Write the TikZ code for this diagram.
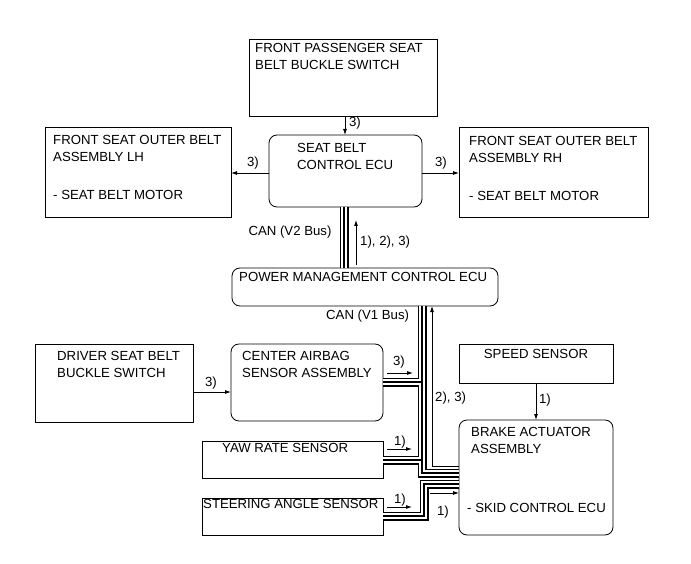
\documentclass[tikz,border=0pt]{standalone}
\usepackage{fontspec}
\setmainfont{Liberation Sans}
\usetikzlibrary{arrows.meta}
\begin{document}
\begin{tikzpicture}[x=1pt,y=-1pt,
  box/.style={draw, line width=0.8pt, inner sep=0pt, outer sep=0pt, anchor=north west},
  rbox/.style={box, rounded corners=8pt},
  txt/.style={inner sep=0pt, anchor=north west, align=left, font=\fontsize{13.2}{17}\selectfont},
  lbl/.style={inner sep=0pt, font=\fontsize{13.2}{17}\selectfont},
  arr/.style={line width=0.8pt, -{Latex[length=6pt,width=4pt]}}]
\useasboundingbox (0,0) rectangle (691,564);

% boxes
\node[box,  minimum width=188pt, minimum height=77pt]  (psg) at (249,39)  {};
\node[rbox, minimum width=153pt, minimum height=72pt]  (sbc) at (269,135) {};
\node[box,  minimum width=186pt, minimum height=90pt]  (lh)  at (45,127)  {};
\node[box,  minimum width=189pt, minimum height=90pt]  (rh)  at (459,127) {};
\node[rbox, minimum width=266pt, minimum height=38pt]  (pmc) at (232,268) {};
\node[box,  minimum width=158pt, minimum height=78pt]  (drv) at (35,344)  {};
\node[rbox, minimum width=152pt, minimum height=77pt]  (cab) at (231,344) {};
\node[box,  minimum width=154pt, minimum height=39pt]  (spd) at (459,344) {};
\node[rbox, minimum width=154pt, minimum height=115pt] (bra) at (459,420) {};
\node[box,  minimum width=181pt, minimum height=37pt]  (yaw) at (202,441) {};
\node[box,  minimum width=181pt, minimum height=37pt]  (str) at (202,498) {};

% box texts
\node[txt] (tpsg) at (255,43)  {FRONT PASSENGER SEAT\\BELT BUCKLE SWITCH};
\node[txt] (tsbc) at (297,143) {SEAT BELT\\CONTROL ECU};
\node[txt] (tlh)  at (53,135)  {FRONT SEAT OUTER BELT\\ASSEMBLY LH};
\node[txt] (tlh2) at (53,190)  {- SEAT BELT MOTOR};
\node[txt] (trh)  at (469,136) {FRONT SEAT OUTER BELT\\ASSEMBLY RH};
\node[txt] (trh2) at (469,191) {- SEAT BELT MOTOR};
\node[txt] (tpmc) at (239,272) {POWER MANAGEMENT CONTROL ECU};
\node[txt] (tdrv) at (57,351)  {DRIVER SEAT BELT\\BUCKLE SWITCH};
\node[txt] (tcab) at (242,351) {CENTER AIRBAG\\SENSOR ASSEMBLY};
\node[txt, anchor=north] (tspd) at (536,349) {SPEED SENSOR};
\node[txt] (tbra) at (471,427) {BRAKE ACTUATOR\\ASSEMBLY};
\node[txt] (tbra2) at (467,503) {- SKID CONTROL ECU};
\node[txt] (tyaw) at (222,443) {YAW RATE SENSOR};
\node[txt] (tstr) at (203,499) {STEERING ANGLE SENSOR};

% helper coordinates
\coordinate (c1) at (345,0);
\coordinate (c2) at (0,173);
\coordinate (b2) at (344,0);
\coordinate (b1) at (422,0);
\coordinate (b3) at (424,0);
\coordinate (turn1) at (0,473);
\coordinate (turn2) at (0,484);
\coordinate (ycab) at (0,382);
\coordinate (yyaw) at (0,460);
\coordinate (ystr) at (0,516);
\coordinate (a3x) at (432,0);
\coordinate (a3y) at (0,466);
\coordinate (y392) at (0,392);
\coordinate (x536) at (536,0);

% buses
\foreach \lw/\lc in {9pt/black, 5.4pt/white, 1.3pt/black}{
  \draw[line width=\lw, draw=\lc] (sbc.south -| b2) -- (pmc.north -| b2);
  \draw[line width=\lw, draw=\lc] (pmc.south -| b1) -- (b1 |- turn1) -- (bra.west |- turn1);
  \draw[line width=\lw, draw=\lc] (cab.east |- ycab) -- (b1 |- ycab);
  \draw[line width=\lw, draw=\lc] (yaw.east |- yyaw) -- (b1 |- yyaw);
  \draw[line width=\lw, draw=\lc] (str.east |- ystr) -- (b3 |- ystr) -- (b3 |- turn2) -- (bra.west |- turn2);
}

% arrows
\draw[arr] (psg.south -| c1) -- (sbc.north -| c1);
\draw[arr] (sbc.west |- c2) -- (lh.east |- c2);
\draw[arr] (sbc.east |- c2) -- (rh.west |- c2);
\coordinate (a2s) at (356,265);
\coordinate (a2e) at (356,220);
\draw[arr] (a2s) -- (a2e);
\draw[arr] (bra.west |- a3y) -- (a3x |- a3y) -- (a3x |- pmc.south);
\draw[arr] (drv.east |- y392) -- (cab.west |- y392);
\draw[arr] (spd.south -| x536) -- (bra.north -| x536);
\coordinate (a5s) at (387,373); \coordinate (a5e) at (413,373);
\draw[arr] (a5s) -- (a5e);
\coordinate (a6s) at (387,449); \coordinate (a6e) at (412,449);
\draw[arr] (a6s) -- (a6e);
\coordinate (a7s) at (387,507); \coordinate (a7e) at (412,507);
\draw[arr] (a7s) -- (a7e);
\coordinate (a4s) at (430,493);
\draw[arr] (a4s) -- (bra.west |- a4s);

% labels
\node[lbl] (l1) at (355,123) {3)};
\node[lbl] (l2) at (253,163) {3)};
\node[lbl] (l3) at (441,163) {3)};
\node[lbl] (l4) at (290,232) {CAN (V2 Bus)};
\node[lbl, anchor=west] (l5) at (360,242) {1), 2), 3)};
\node[lbl, anchor=west] (l6) at (326,316) {CAN (V1 Bus)};
\node[lbl, anchor=west] (l7) at (435,398) {2), 3)};
\node[lbl] (l8) at (211,383) {3)};
\node[lbl] (l9) at (399,362) {3)};
\node[lbl] (l10) at (400,442) {1)};
\node[lbl] (l11) at (400,500) {1)};
\node[lbl] (l12) at (443,512) {1)};
\node[lbl] (l13) at (545,400) {1)};
\end{tikzpicture}
\end{document}
